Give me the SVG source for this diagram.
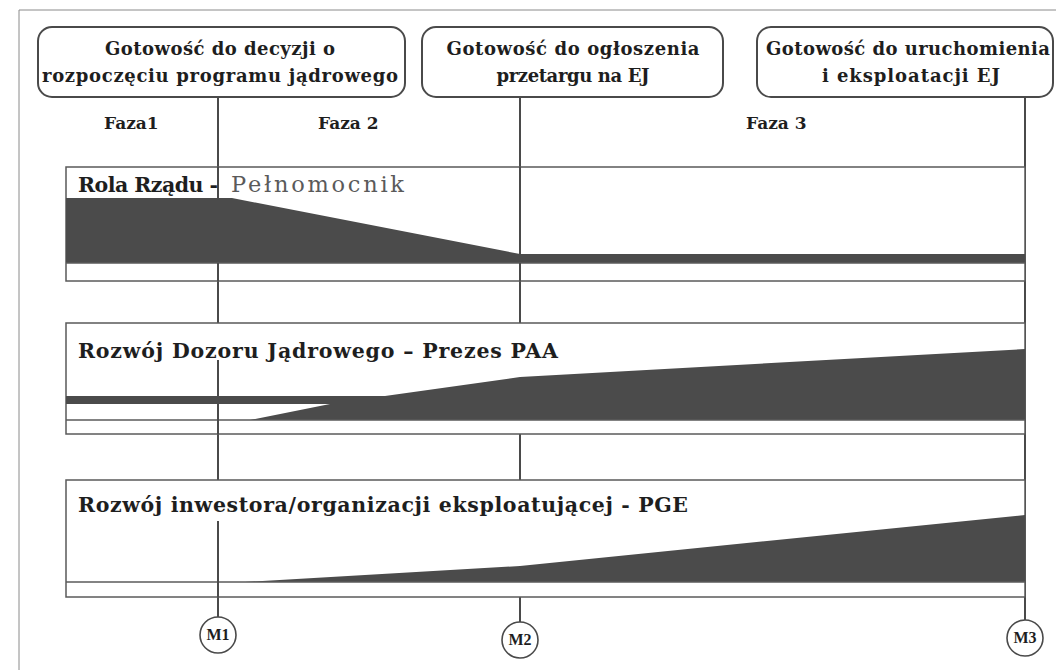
<svg xmlns="http://www.w3.org/2000/svg" width="1056" height="670" viewBox="0 0 1056 670">
<style>
.frame{stroke:#8a8a8a;stroke-width:1;fill:none}
.box{fill:#fff;stroke:#4a4a4a;stroke-width:2}
.band{fill:#fff;stroke:#5a5a5a;stroke-width:1.5}
.inner{stroke:#5a5a5a;stroke-width:1.5}
.dark{fill:#4b4b4b}
.vl{stroke:#4a4a4a;stroke-width:2;fill:none}
.t{font-family:"DejaVu Serif","Liberation Serif",serif;font-weight:bold;fill:#1e1e1e}
.hd{font-size:18px;text-anchor:middle}
.ph{font-size:17px}
.bl{font-size:20.5px}
.gr{font-weight:normal;fill:#5a5a5a;font-size:22.5px}
.circ{fill:#fff;stroke:#4a4a4a;stroke-width:1.6}
.m{font-family:"Liberation Serif",serif;font-weight:bold;font-size:16px;fill:#1e1e1e;text-anchor:middle}
</style>
<rect width="1056" height="670" fill="#fff"/>
<g id="frame">
<line class="frame" x1="19" y1="10" x2="1056" y2="10"/>
<line class="frame" x1="19" y1="10" x2="19" y2="670"/>
</g>
<g id="connectors">
<line class="vl" x1="218" y1="97" x2="218" y2="323"/>
<line class="vl" x1="218" y1="360" x2="218" y2="480"/>
<line class="vl" x1="218" y1="521" x2="218" y2="617"/>
<line class="vl" x1="520" y1="97" x2="520" y2="323"/>
<line class="vl" x1="520" y1="360" x2="520" y2="480"/>
<line class="vl" x1="520" y1="521" x2="520" y2="622"/>
<line class="vl" x1="1025" y1="97" x2="1025" y2="620"/>
</g>
<g id="band1">
<rect class="band" x="66" y="167" width="959" height="114"/>
<polygon class="dark" points="66,198 232,198 520,254 1025,254 1025,263 66,263"/>
<line class="inner" x1="66" y1="263" x2="1025" y2="263"/>
<line class="vl" x1="218" y1="167" x2="218" y2="200"/>
<line class="vl" x1="520" y1="167" x2="520" y2="254"/>
<line class="vl" x1="218" y1="263" x2="218" y2="281"/>
<line class="vl" x1="520" y1="263" x2="520" y2="281"/>
<text class="t bl" x="78" y="192" textLength="140">Rola Rządu -</text>
<text class="t gr" x="231" y="192" textLength="173">Pełnomocnik</text>
</g>
<g id="band2">
<rect class="band" x="66" y="323" width="959" height="111"/>
<polygon class="dark" points="66,396 385,396 520,377 1025,349 1025,420 250,420 330,404 66,404"/>
<line class="inner" x1="66" y1="420" x2="1025" y2="420"/>
<line class="vl" x1="218" y1="404" x2="218" y2="434"/>
<line class="vl" x1="218" y1="360" x2="218" y2="396"/>
<text class="t bl" x="78" y="358" textLength="480">Rozwój Dozoru Jądrowego – Prezes PAA</text>
</g>
<g id="band3">
<rect class="band" x="66" y="480" width="959" height="117"/>
<polygon class="dark" points="245,582 520,566 1025,515 1025,582"/>
<line class="inner" x1="66" y1="582" x2="1025" y2="582"/>
<line class="vl" x1="218" y1="521" x2="218" y2="597"/>
<text class="t bl" x="78" y="512" textLength="610">Rozwój inwestora/organizacji eksploatującej - PGE</text>
</g>
<g id="milestone1">
<rect class="box" x="38" y="27" width="367" height="70" rx="14"/>
<text class="t hd" x="220" y="55" textLength="230">Gotowość do decyzji o</text>
<text class="t hd" x="220" y="82" textLength="356">rozpoczęciu programu jądrowego</text>
</g>
<g id="milestone2">
<rect class="box" x="422" y="27" width="301" height="70" rx="14"/>
<text class="t hd" x="573" y="55" textLength="253">Gotowość do  ogłoszenia</text>
<text class="t hd" x="573" y="82" textLength="153">przetargu na EJ</text>
</g>
<g id="milestone3">
<rect class="box" x="757" y="27" width="296" height="70" rx="14"/>
<text class="t hd" x="908" y="55" textLength="284">Gotowość do uruchomienia</text>
<text class="t hd" x="911" y="82" textLength="178">i eksploatacji EJ</text>
</g>
<g id="phases">
<text class="t ph" x="104" y="129">Faza1</text>
<text class="t ph" x="318" y="129">Faza 2</text>
<text class="t ph" x="746" y="129">Faza 3</text>
</g>
<g id="M1">
<circle class="circ" cx="218" cy="635" r="18"/>
<text class="m" x="218" y="640">M1</text>
</g>
<g id="M2">
<circle class="circ" cx="520" cy="640" r="18"/>
<text class="m" x="520" y="645">M2</text>
</g>
<g id="M3">
<circle class="circ" cx="1025" cy="638" r="18"/>
<text class="m" x="1025" y="643">M3</text>
</g>
</svg>
